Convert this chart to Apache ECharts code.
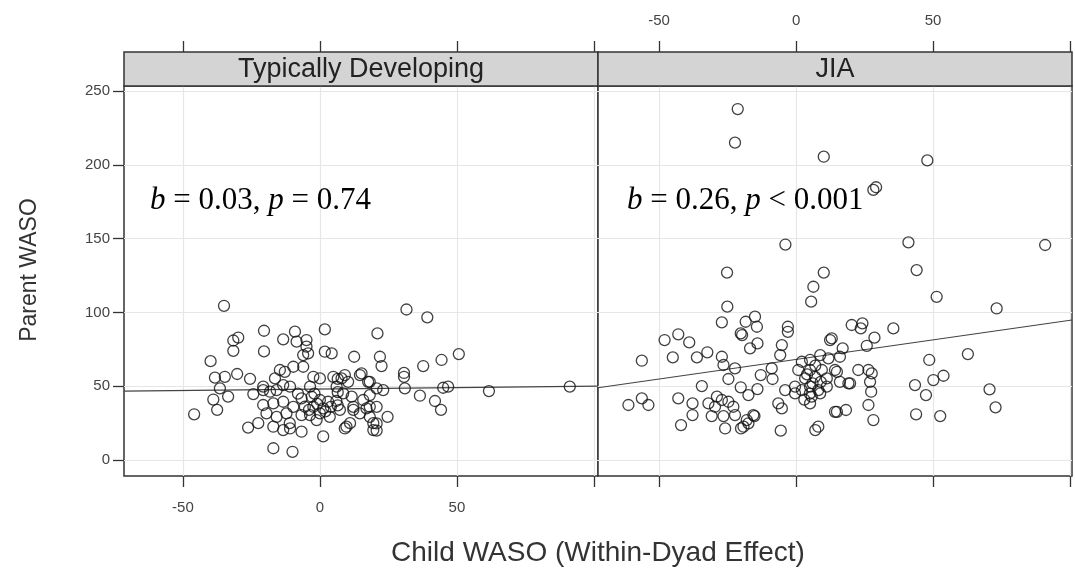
<!DOCTYPE html>
<html><head><meta charset="utf-8">
<script src="https://cdn.jsdelivr.net/npm/echarts@6/dist/echarts.min.js"></script>
<style>html,body{margin:0;padding:0;background:#fff}#c{width:1075px;height:573px}</style>
</head><body><div id="c"></div>
<script>
// ---- data ----
const panels = ['Typically Developing', 'JIA'];
const xTicks = [-50, 0, 50, 100];
const xTickLabels = [-50, 0, 50];
const yTicks = [0, 50, 100, 150, 200, 250];
const annotations = [['0.03', '=', '0.74'], ['0.26', '<', '0.001']];

const tdPoints = [
[-35,104.5],[-20.4,87.6],[-31.6,81],[-29.8,83],[-31.6,74],[-20.4,73.6],[-13.4,81.8],[-9.1,87],[-8.5,80.2],[-4.9,81.3],
[-4.9,76.8],[-4.3,72.3],[-6.1,71.1],[1.8,88.5],[1.8,73.4],[4.3,72.3],[12.5,70],[-39.9,67],[-38.3,55.8],[-34.7,56.4],
[-30.2,58.3],[-25.5,55],[-36.5,48.6],[-38.9,41],[-33.5,43],[-37.5,34],[-45.9,31],[-24.3,44.7],[-20.7,47.4],[-26.2,22],
[-22.5,25],[-17,22.6],[-17,8],[-10,5.6],[1.2,16],[-6.7,19.2],[-14.6,61],[-12.8,59.8],[-9.7,63.2],[-6.1,63.2],
[-16.4,55.3],[-2.4,56.4],[0,55.3],[-3.6,49.7],[4.9,56.4],[7.9,55.3],[9.1,57.6],[10.3,53],[15.2,58.7],[18.2,53],
[20.7,48.6],[-20.7,49.7],[-18.2,46.3],[-15.8,47.4],[-13.4,50.8],[-10.9,49.7],[-6.7,41.8],[-3,42.9],[0,40.7],[3,39.5],
[-5.5,36.1],[-2.4,36.1],[1.2,35],[-3.6,30.5],[0,31.6],[3.6,29.3],[-6.7,30.5],[-1.2,27.1],[6.1,49.7],[8.5,45.2],
[11.6,43],[15.8,40.7],[18.2,36.1],[14.6,31.6],[18.2,29.3],[20.7,24.8],[19.5,20.3],[9.7,22.6],[11,25],[9.1,21.4],
[-13.4,20.3],[-10.9,21.4],[-20.7,37.3],[-17,38.4],[-13.4,39.5],[-19.5,31.6],[-15.8,29.3],[-12.2,31.6],[-11,25],[-9.7,36],
[7.3,34],[12.2,34],[31.6,102],[39.2,96.7],[21,85.8],[21.9,70],[22.5,63.7],[30.7,59],[30.7,56.4],[37.7,63.7],
[44.4,67.8],[50.7,71.8],[31,48.6],[36.5,43.6],[42,40],[44.2,34],[45,49],[46.8,49.7],[61.7,46.7],[91.2,49.7],
[23.1,47.4],[14.6,57.6],[17.6,53],[18.2,44],[17,35],[20.7,36],[19.5,25],[20.7,20],[24.7,29.3],[6.5,55],
[6.5,46],[6.5,37],[12.2,36],[-1,38],[2,33],[-4,34],[4,36],[-2,45],[6,40],[-8,45]
];

const jiaPoints = [
[-21.3,237.8],[-22.3,215],[10.1,205.5],[-3.9,146],[-25.2,127],[10.1,127],[47.9,203],[28.2,183],[29.2,184.8],[41,147.5],
[90.9,145.7],[44,128.7],[51.3,110.6],[73.2,102.7],[20.3,91.5],[24.2,92.6],[23.6,89.2],[35.5,89.2],[13,82.4],[28.6,82.9],
[25.8,77.4],[17,75.7],[16,70],[62.7,71.8],[48.6,67.8],[14.2,61],[22.7,61],[26.4,61],[27.6,58.7],[16,53],
[19.7,52],[27,53],[50.1,54.2],[53.8,57.1],[43.4,50.8],[47.4,44],[27.4,46.3],[70.6,47.9],[72.8,35.7],[14.9,32.7],
[18.2,33.9],[26.4,37.3],[28.2,27.1],[43.8,31],[52.6,29.8],[-25.1,103.9],[-27.1,93.3],[-18.4,93.7],[-15,97.1],[-14.3,90.3],
[-20.2,85.8],[-19.7,84.7],[-14.1,79],[-16.8,75.7],[-3,90.3],[-3,86.9],[6.3,117.4],[5.5,107.3],[12.4,81.3],[-5.2,77.9],
[-5.8,71.1],[-48,81.3],[-43,85.2],[-39,79.7],[-56.3,67.3],[-45,69.6],[-36.2,69.6],[-32.4,73],[-27.1,70],[-26.5,64.4],
[-22.3,62.1],[-24.7,54.9],[-12.9,57.6],[-8.9,62.1],[-8.6,54.9],[-34.4,50.1],[-20.2,49.3],[-14.1,48.1],[-17.4,44],[-28.9,43],
[-27.1,40.7],[-24.7,39.5],[-32,38.4],[-22.9,36.1],[-29.6,36.1],[-43,41.8],[-37.8,38.4],[-37.8,30.5],[-30.8,29.8],[-26.5,29.8],
[-22.3,30.5],[-42,23.7],[-25.9,21.4],[-20.1,21.4],[-17.4,24.9],[-15.2,29.8],[-61.2,37.3],[-56.3,41.8],[-53.9,37.3],[-6.5,38.4],
[-5.2,35],[-5.6,19.9],[-4,47.4],[-0.4,49.7],[-0.4,45.2],[7,20.3],[8.1,22.6],[14.2,32.7],[2.1,66.6],[5.1,67.8],
[8.8,71.1],[11.8,68.9],[9.4,61],[5.1,61],[0.8,61],[3.3,55.3],[6.9,56.4],[11.2,55.3],[5.1,49.7],[8.1,47.4],
[11.2,49.7],[5.7,43],[5.1,38.4],[8.8,45.2],[2.1,47.4],[14.9,59.8],[19.1,52],[-15.6,30.5],[-18,27.1],[-19.2,22.6],
[6,52],[4,58],[9,53],[7,64],[5,45],[3,41]
];

const tdFit = [[-71.5, 46.7], [101.5, 50.1]];
const jiaFit = [[-72.3, 49.0], [100.7, 94.9]];

// ---- chart ----
const chart = echarts.init(document.getElementById('c'), null, {renderer: 'canvas'});
const FONT = 'Liberation Sans, Arial, sans-serif';
const gridTop = 86, gridH = 390;
const grids = [{left: 124, width: 474}, {left: 598, width: 474}];
const xRanges = [[-71.5, 101.5], [-72.3, 100.7]];
const yRange = [-10.8, 253.4];

const gridsOpt = grids.map(g => ({left: g.left, width: g.width, top: gridTop, height: gridH,
  show: true, borderColor: '#333', borderWidth: 1.5, backgroundColor: '#fff'}));

const tickStyle = {length: 11, inside: false, lineStyle: {color: '#333', width: 1.3}};
const labStyle = {color: '#444', fontFamily: FONT, fontSize: 15};

const xAxes = [];
[0, 1].forEach(i => {
  xAxes.push({type: 'value', gridIndex: i, position: 'bottom', min: xRanges[i][0], max: xRanges[i][1],
    axisLine: {show: false, onZero: false},
    axisTick: Object.assign({}, tickStyle, {show: true, customValues: xTicks}),
    axisLabel: Object.assign({}, labStyle, {show: i === 0, customValues: xTickLabels, margin: 24}),
    splitLine: {show: true, lineStyle: {color: '#e6e6e6', width: 1.2}}
  });
  xAxes.push({type: 'value', gridIndex: i, position: 'top', offset: 34, min: xRanges[i][0], max: xRanges[i][1],
    axisLine: {show: false, onZero: false},
    axisTick: Object.assign({}, tickStyle, {show: true, customValues: xTicks}),
    axisLabel: Object.assign({}, labStyle, {show: i === 1, customValues: xTickLabels, margin: 24}),
    splitLine: {show: false}
  });
});

const yAxes = [0, 1].map(i => ({type: 'value', gridIndex: i, position: 'left', min: yRange[0], max: yRange[1],
  axisLine: {show: false, onZero: false},
  axisTick: Object.assign({}, tickStyle, {show: i === 0, customValues: yTicks}),
  axisLabel: Object.assign({}, labStyle, {show: i === 0, customValues: yTicks, margin: 14}),
  splitLine: {show: true, lineStyle: {color: '#e6e6e6', width: 1.2}}
}));

const scatterStyle = {color: 'rgba(0,0,0,0)', borderColor: '#111', borderWidth: 1.3};
const pointsSets = [tdPoints, jiaPoints];
const fits = [tdFit, jiaFit];
const series = [];
[0, 1].forEach(i => {
  series.push({type: 'scatter', xAxisIndex: i * 2, yAxisIndex: i, data: pointsSets[i],
    symbol: 'circle', symbolSize: 11, itemStyle: scatterStyle, silent: true, z: 3});
  series.push({type: 'line', xAxisIndex: i * 2, yAxisIndex: i, data: fits[i], symbol: 'none',
    lineStyle: {color: '#444', width: 1.2}, silent: true, z: 2});
});

const graphics = [];
grids.forEach((g, i) => {
  graphics.push({type: 'rect', shape: {x: g.left, y: 52, width: g.width, height: 34},
    style: {fill: '#d4d4d4', stroke: '#333', lineWidth: 1.5}, z: 10});
  graphics.push({type: 'text', x: g.left + g.width / 2, y: 70,
    style: {text: panels[i], font: '27px ' + FONT, fill: '#222', align: 'center', verticalAlign: 'middle'}, z: 11});
});
const annX = [150, 627];
annotations.forEach((a, i) => {
  graphics.push({type: 'text', x: annX[i], y: 201,
    style: {text: '{i|b} = ' + a[0] + ', {i|p} ' + a[1] + ' ' + a[2],
      font: '31px "Liberation Serif", "Times New Roman", serif', fill: '#000', verticalAlign: 'middle',
      rich: {i: {fontStyle: 'italic', fontFamily: 'Liberation Serif', fontSize: 31}}}, z: 11});
});
graphics.push({type: 'text', x: 598, y: 553,
  style: {text: 'Child WASO (Within-Dyad Effect)', font: '28px ' + FONT, fill: '#333', align: 'center', verticalAlign: 'middle'}});
graphics.push({type: 'text', x: 30, y: 270, rotation: Math.PI / 2,
  style: {text: 'Parent WASO', font: '23px ' + FONT, fill: '#333', align: 'center', verticalAlign: 'middle'}});

chart.setOption({
  animation: false,
  backgroundColor: '#fff',
  grid: gridsOpt,
  xAxis: xAxes,
  yAxis: yAxes,
  series: series,
  graphic: graphics
});
</script></body></html>
